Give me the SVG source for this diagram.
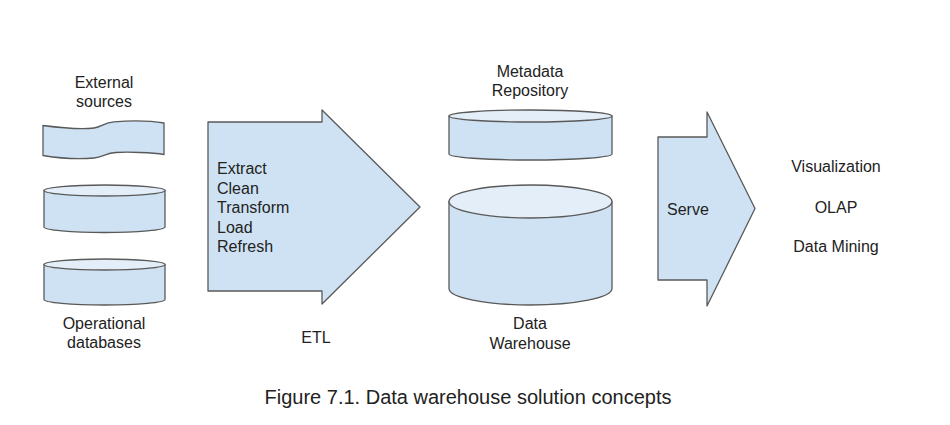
<svg xmlns="http://www.w3.org/2000/svg" width="950" height="425" viewBox="0 0 950 425">
<style>
.shape{fill:#cfe2f3;stroke:#595959;stroke-width:1.3;stroke-linejoin:round}
.top{fill:#e3eef9;stroke:#595959;stroke-width:1.3}
text{font-family:"Liberation Sans",Arial,sans-serif;font-size:16px;fill:#222}
.c{text-anchor:middle}
.cap{font-size:20px}
</style>
<rect width="950" height="425" fill="#ffffff"/>
<g id="external-sources">
<path class="shape" d="M43,125.5 C62,128 82,129.5 94,128 C102,127 104,122.5 114,121.8 C132,120.5 152,121 164,123 V154.5 C152,152.5 128,151.8 116,152.5 C106,153 103,157 94,158 C80,159.3 60,158.3 43,155.5 Z"/>
<text class="c" x="104" y="88">External</text>
<text class="c" x="104" y="106.5">sources</text>
</g>
<g id="operational-db-1">
<path class="shape" d="M44,190.5 V227 A60.5,5.5 0 0 0 165,227 V190.5 Z"/>
<ellipse class="top" cx="104.5" cy="190.5" rx="60.5" ry="5.5"/>
</g>
<g id="operational-db-2">
<path class="shape" d="M44,264.5 V299.5 A60.5,5.5 0 0 0 165,299.5 V264.5 Z"/>
<ellipse class="top" cx="104.5" cy="264.5" rx="60.5" ry="5.5"/>
<text class="c" x="104" y="329">Operational</text>
<text class="c" x="104" y="348">databases</text>
</g>
<g id="etl">
<path class="shape" d="M208,122 H322 V110 L420,207 L322,304 V291 H208 Z"/>
<text x="217" y="174">Extract</text>
<text x="217" y="193.5">Clean</text>
<text x="217" y="213">Transform</text>
<text x="217" y="232.5">Load</text>
<text x="217" y="252">Refresh</text>
<text class="c" x="316" y="343">ETL</text>
</g>
<g id="metadata-repository">
<path class="shape" d="M449,116 V154 A81.5,6 0 0 0 612,154 V116 Z"/>
<ellipse class="top" cx="530.5" cy="116" rx="81.5" ry="6"/>
<text class="c" x="530" y="77">Metadata</text>
<text class="c" x="530" y="96">Repository</text>
</g>
<g id="data-warehouse">
<path class="shape" d="M449,201.5 V288.5 A81.5,16.5 0 0 0 612,288.5 V201.5 Z"/>
<ellipse class="top" cx="530.5" cy="201.5" rx="81.5" ry="16.5"/>
<text class="c" x="530" y="329">Data</text>
<text class="c" x="530" y="348.5">Warehouse</text>
</g>
<g id="serve">
<path class="shape" d="M658,137 H707 V112 L755,208.5 L707,306 V280 H658 Z"/>
<text x="667" y="215">Serve</text>
</g>
<g id="consumers">
<text class="c" x="836" y="172">Visualization</text>
<text class="c" x="836" y="212.5">OLAP</text>
<text class="c" x="836" y="252">Data Mining</text>
</g>
<g id="connectors"></g>
<text class="c cap" x="468" y="404">Figure 7.1. Data warehouse solution concepts</text>
</svg>
